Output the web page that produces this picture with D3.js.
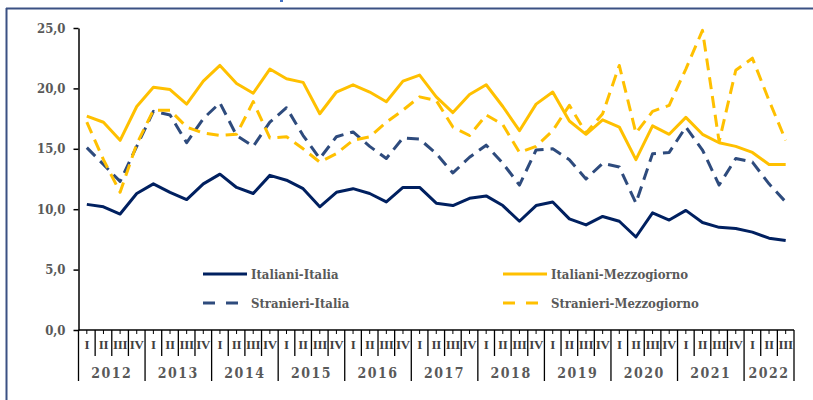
<!DOCTYPE html>
<html><head><meta charset="utf-8">
<script src="https://cdn.jsdelivr.net/npm/d3@7"></script>
<style>body{margin:0;background:#fff} svg{display:block}</style>
</head><body><svg id="c" width="813" height="400"></svg>
<script>
const years = ["2012","2013","2014","2015","2016","2017","2018","2019","2020","2021","2022"];
const quarterLabels = ["I","II","III","IV"];
const yTicks = [0, 5, 10, 15, 20, 25];
const seriesNames = ["Italiani-Italia","Italiani-Mezzogiorno","Stranieri-Italia","Stranieri-Mezzogiorno"];

const italianiItalia = [10.4,10.2,9.6,11.3,12.1,11.4,10.8,12.1,12.9,11.8,
  11.3,12.8,12.4,11.7,10.2,11.4,11.7,11.3,10.6,11.8,
  11.8,10.5,10.3,10.9,11.1,10.3,9.0,10.3,10.6,9.2,
  8.7,9.4,9.0,7.7,9.7,9.1,9.9,8.9,8.5,8.4,
  8.1,7.6,7.4];
const italianiMezzogiorno = [17.7,17.2,15.7,18.5,20.1,19.9,18.7,20.6,21.9,20.4,
  19.6,21.6,20.8,20.5,17.9,19.7,20.3,19.7,18.9,20.6,
  21.1,19.3,18.0,19.5,20.3,18.5,16.5,18.7,19.7,17.3,
  16.2,17.4,16.8,14.1,16.9,16.2,17.6,16.2,15.5,15.2,
  14.7,13.7,13.7];
const stranieriItalia = [15.1,13.7,12.3,15.2,18.1,17.8,15.5,17.5,18.8,16.1,
  15.2,17.2,18.4,16.1,14.2,16.0,16.4,15.2,14.2,15.9,
  15.8,14.6,13.0,14.3,15.3,13.8,12.0,14.9,15.0,14.1,
  12.5,13.8,13.5,10.5,14.6,14.7,16.8,14.9,12.0,14.2,
  13.9,12.1,10.6];
const stranieriMezzogiorno = [17.2,14.1,11.4,15.4,18.2,18.2,16.8,16.3,16.1,16.2,
  18.9,15.9,16.0,15.0,13.9,14.6,15.7,16.0,17.2,18.2,
  19.3,19.0,16.8,16.1,17.8,17.0,14.7,15.2,16.5,18.6,
  16.3,17.9,21.9,16.3,18.1,18.6,21.6,24.8,15.6,21.5,
  22.5,19.0,15.7];

const categories = [];
years.forEach(yr => quarterLabels.forEach(q => categories.push({year: yr, q: q, key: yr + "-" + q})));
categories.length = italianiItalia.length;

const svg = d3.select("#c");
const textColor = "#595959";
const fontFam = "'DejaVu Serif Condensed', 'DejaVu Serif', serif";
const fontFam2 = "'Liberation Serif', serif";

// frame
svg.append("line").attr("x1", 6).attr("x2", 813).attr("y1", 8.5).attr("y2", 8.5)
  .attr("stroke", "#3B5183").attr("stroke-width", 2);
svg.append("line").attr("x1", 6.5).attr("x2", 6.5).attr("y1", 8).attr("y2", 400)
  .attr("stroke", "#3B5183").attr("stroke-width", 2);
svg.append("rect").attr("x", 280).attr("y", 0).attr("width", 3).attr("height", 2).attr("fill", "#4472C4");

const x = d3.scaleBand().domain(categories.map(d => d.key)).range([78.5, 794]).padding(0);
const y = d3.scaleLinear().domain([0, 25]).range([330, 28]);
const cx = k => x(k) + x.bandwidth() / 2;

// y axis
const yAxis = svg.append("g").attr("transform", "translate(78.5,0)")
  .call(d3.axisLeft(y).tickValues(yTicks).tickSize(5).tickSizeOuter(0).tickPadding(8)
    .tickFormat(d => d3.format(".1f")(d).replace(".", ",")));
yAxis.select(".domain").attr("stroke", "#000").attr("stroke-width", 1.5);
yAxis.selectAll(".tick line").attr("stroke", "#000").attr("stroke-width", 1.5);
yAxis.selectAll(".tick text").attr("fill", textColor).attr("font-family", fontFam)
  .attr("font-weight", "bold").attr("font-size", 13);

// x axis baseline
const x0 = x.range()[0], x1 = x.range()[1];
svg.append("line").attr("x1", x0).attr("x2", x1).attr("y1", 330).attr("y2", 330)
  .attr("stroke", "#000").attr("stroke-width", 1.5);
// separators
const bounds = categories.map((d, i) => ({pos: x(d.key), yearStart: i % 4 === 0}));
bounds.push({pos: x1, yearStart: true});
svg.append("g").selectAll("line").data(bounds).join("line")
  .attr("x1", d => d.pos).attr("x2", d => d.pos)
  .attr("y1", 330).attr("y2", d => d.yearStart ? 381 : 356)
  .attr("stroke", "#000").attr("stroke-width", 1.3);
// small ticks at centers
svg.append("g").selectAll("line").data(categories).join("line")
  .attr("x1", d => cx(d.key)).attr("x2", d => cx(d.key))
  .attr("y1", 330).attr("y2", 334).attr("stroke", "#000").attr("stroke-width", 1);
// quarter labels
svg.append("g").selectAll("text").data(categories).join("text")
  .attr("x", d => cx(d.key)).attr("y", 349).attr("text-anchor", "middle")
  .attr("font-family", fontFam2).attr("font-weight", "bold").attr("font-size", 13)
  .attr("letter-spacing", "-0.3").attr("fill", "#404040").text(d => d.q);
// year labels
const yearGroups = d3.groups(categories, d => d.year);
svg.append("g").selectAll("text").data(yearGroups).join("text")
  .attr("x", d => (x(d[1][0].key) + x(d[1][d[1].length - 1].key) + x.bandwidth()) / 2)
  .attr("y", 378).attr("text-anchor", "middle")
  .attr("font-family", fontFam).attr("font-weight", "bold").attr("font-size", 14)
  .attr("letter-spacing", "1.5").attr("fill", textColor).text(d => d[0]);

// series
const series = [
  {name: seriesNames[0], values: italianiItalia, color: "#002060", dash: null},
  {name: seriesNames[1], values: italianiMezzogiorno, color: "#FFC000", dash: null},
  {name: seriesNames[2], values: stranieriItalia, color: "#2E4B7D", dash: "12,7"},
  {name: seriesNames[3], values: stranieriMezzogiorno, color: "#FFC000", dash: "12,7"}
];
const line = d3.line().x((v, i) => cx(categories[i].key)).y(v => y(v));
svg.append("g").selectAll("path").data(series).join("path")
  .attr("d", d => line(d.values)).attr("fill", "none")
  .attr("stroke", d => d.color).attr("stroke-width", 3)
  .attr("stroke-linejoin", "round")
  .attr("stroke-dasharray", d => d.dash);

// legend
const legendPos = [
  {x: 203, y: 274}, {x: 503, y: 274}, {x: 203, y: 303}, {x: 503, y: 303}
];
const leg = svg.append("g").selectAll("g").data(series).join("g")
  .attr("transform", (d, i) => `translate(${legendPos[i].x},${legendPos[i].y})`);
leg.append("line").attr("x1", 0).attr("x2", d => d.dash ? 35 : 44).attr("y1", 0).attr("y2", 0)
  .attr("stroke", d => d.color).attr("stroke-width", 3)
  .attr("stroke-dasharray", d => d.dash ? "12,11" : null);
leg.append("text").attr("x", 48).attr("y", 0).attr("dy", "0.35em")
  .attr("font-family", fontFam).attr("font-weight", "bold").attr("font-size", 13)
  .attr("fill", textColor).text(d => d.name);
</script>
</body></html>
